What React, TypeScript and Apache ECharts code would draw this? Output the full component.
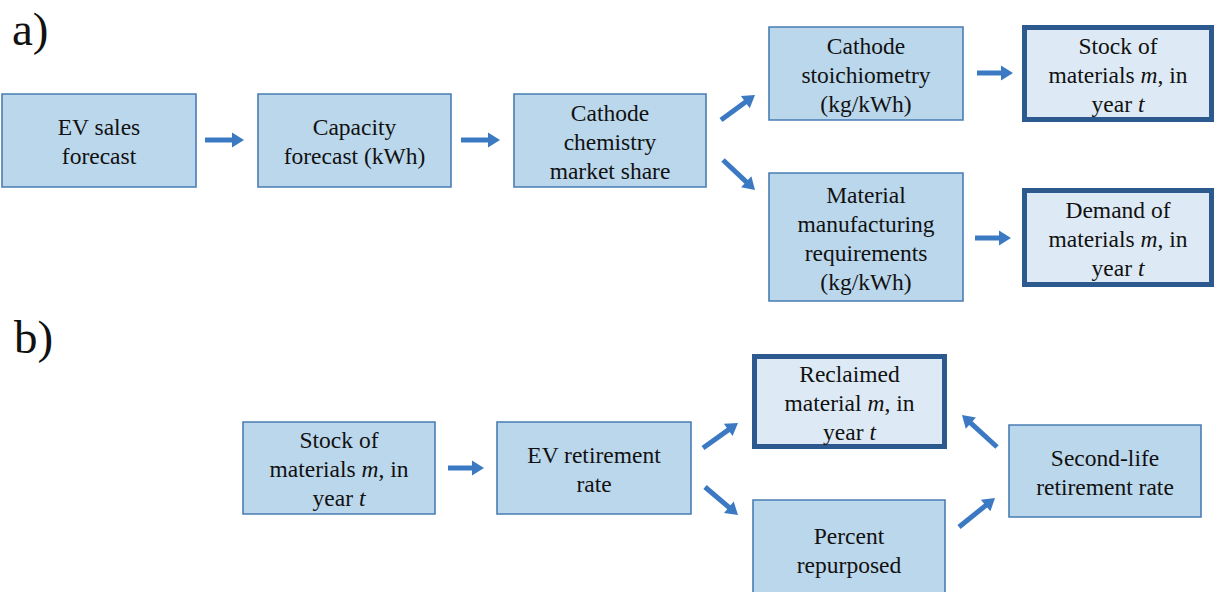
import React, { useEffect, useRef } from "react";
import * as echarts from "echarts";

// Panel labels
const panelLabels = ["a)", "b)"];
const panelLabelX = [12, 14];
const panelLabelY = [29, 337];

// Flowchart boxes
const boxLabels = [
  "EV sales\nforecast",
  "Capacity\nforecast (kWh)",
  "Cathode\nchemistry\nmarket share",
  "Cathode\nstoichiometry\n(kg/kWh)",
  "Material\nmanufacturing\nrequirements\n(kg/kWh)",
  "Stock of\nmaterials {i|m}, in\nyear {i|t}",
  "Demand of\nmaterials {i|m}, in\nyear {i|t}",
  "Stock of\nmaterials {i|m}, in\nyear {i|t}",
  "EV retirement\nrate",
  "Reclaimed\nmaterial {i|m}, in\nyear {i|t}",
  "Percent\nrepurposed",
  "Second-life\nretirement rate",
];
const boxX0 = [2, 258, 514, 769, 769, 1024.5, 1024.5, 243, 497, 754.5, 753, 1009];
const boxY0 = [94, 94, 94, 27, 173, 27.5, 190.5, 422, 422, 356.5, 500, 425];
const boxX1 = [196, 451, 706, 963, 963, 1211.5, 1211.5, 435, 691, 944.5, 945, 1201];
const boxY1 = [187, 187, 187, 120, 301, 119.5, 284.5, 514, 514, 446.5, 598, 517];
const boxIsOutput = [0, 0, 0, 0, 0, 1, 1, 0, 0, 1, 0, 0];

// Arrows (from -> to)
const arrowX1 = [205, 461, 721, 723, 977, 975, 448, 703, 705, 997, 959];
const arrowY1 = [140, 140, 120, 160, 73, 238, 468, 448, 487, 447, 527];
const arrowX2 = [244, 500, 755, 755, 1013, 1011, 484, 738, 738, 962, 995];
const arrowY2 = [140, 140, 95, 190, 73, 238, 468, 423, 515, 415, 498];

const FAMILY = "Liberation Serif";
const FS = 23.5;
const ARROW = "#3B79C3";
const TEXT = "#111111";

function toRich(label: string): string {
  return label
    .split("\n")
    .map((line) =>
      line
        .split(/(\{i\|[^}]*\})/)
        .filter((s) => s.length > 0)
        .map((s) => (s.startsWith("{i|") ? s : `{n|${s}}`))
        .join("")
    )
    .join("\n");
}

export default function App() {
  const ref = useRef<HTMLDivElement>(null);
  useEffect(() => {
    if (!ref.current) return;
    const chart = echarts.init(ref.current, undefined, { renderer: "svg" });

    const boxData = boxLabels.map((_, i) => [boxX0[i], boxY0[i], boxX1[i], boxY1[i], boxIsOutput[i]]);
    const arrowData = arrowX1.map((_, i) => [arrowX1[i], arrowY1[i], arrowX2[i], arrowY2[i]]);
    const labelData = panelLabels.map((_, i) => [panelLabelX[i], panelLabelY[i]]);

    chart.setOption({
      animation: false,
      backgroundColor: "#ffffff",
      grid: { left: 0, right: 0, top: 0, bottom: 0 },
      xAxis: { type: "value", min: 0, max: 1214, show: false },
      yAxis: { type: "value", min: 0, max: 592, inverse: true, show: false },
      series: [
        {
          type: "custom",
          name: "boxes",
          data: boxData,
          clip: false,
          renderItem: (params: any, api: any) => {
            const p0 = api.coord([api.value(0), api.value(1)]);
            const p1 = api.coord([api.value(2), api.value(3)]);
            const out = api.value(4) === 1;
            const cx = (p0[0] + p1[0]) / 2;
            const cy = (p0[1] + p1[1]) / 2 + 1;
            return {
              type: "group",
              children: [
                {
                  type: "rect",
                  shape: { x: p0[0], y: p0[1], width: p1[0] - p0[0], height: p1[1] - p0[1] },
                  style: {
                    fill: out ? "#DDEAF6" : "#BBD7EC",
                    stroke: out ? "#2D5A8E" : "#4A7DB3",
                    lineWidth: out ? 5 : 1.6,
                  },
                },
                {
                  type: "text",
                  x: cx,
                  y: cy,
                  style: {
                    text: toRich(boxLabels[params.dataIndex]),
                    fontFamily: FAMILY,
                    fontSize: FS,
                    lineHeight: 29,
                    fill: TEXT,
                    align: "center",
                    verticalAlign: "middle",
                    rich: {
                      n: { fontFamily: FAMILY, fontSize: FS, lineHeight: 29, fill: TEXT },
                      i: { fontFamily: FAMILY, fontSize: FS, lineHeight: 29, fontStyle: "italic", fill: TEXT },
                    },
                  },
                },
              ],
            };
          },
        },
        {
          type: "custom",
          name: "arrows",
          data: arrowData,
          clip: false,
          renderItem: (params: any, api: any) => {
            const a = api.coord([api.value(0), api.value(1)]);
            const b = api.coord([api.value(2), api.value(3)]);
            const dx = b[0] - a[0];
            const dy = b[1] - a[1];
            const len = Math.sqrt(dx * dx + dy * dy);
            const ux = dx / len;
            const uy = dy / len;
            const nx = -uy;
            const ny = ux;
            const hl = 12;
            const hw = 7.5;
            const bx = b[0] - ux * hl;
            const by = b[1] - uy * hl;
            return {
              type: "group",
              children: [
                {
                  type: "line",
                  shape: { x1: a[0], y1: a[1], x2: bx + ux * 1.5, y2: by + uy * 1.5 },
                  style: { stroke: ARROW, lineWidth: 5 },
                },
                {
                  type: "polygon",
                  shape: {
                    points: [
                      [b[0], b[1]],
                      [bx + nx * hw, by + ny * hw],
                      [bx - nx * hw, by - ny * hw],
                    ],
                  },
                  style: { fill: ARROW },
                },
              ],
            };
          },
        },
        {
          type: "custom",
          name: "panels",
          data: labelData,
          clip: false,
          renderItem: (params: any, api: any) => {
            const p = api.coord([api.value(0), api.value(1)]);
            return {
              type: "text",
              x: p[0],
              y: p[1],
              style: {
                text: `{p|${panelLabels[params.dataIndex]}}`,
                fontFamily: FAMILY,
                fontSize: 47,
                fill: "#111111",
                align: "left",
                verticalAlign: "middle",
                rich: { p: { fontFamily: FAMILY, fontSize: 47, fill: "#111111" } },
              },
            };
          },
        },
      ],
    });
    return () => chart.dispose();
  }, []);
  return (
    <div
      ref={ref}
      style={{ position: "fixed", left: 0, top: 0, width: 1214, height: 592, background: "#fff" }}
    />
  );
}
